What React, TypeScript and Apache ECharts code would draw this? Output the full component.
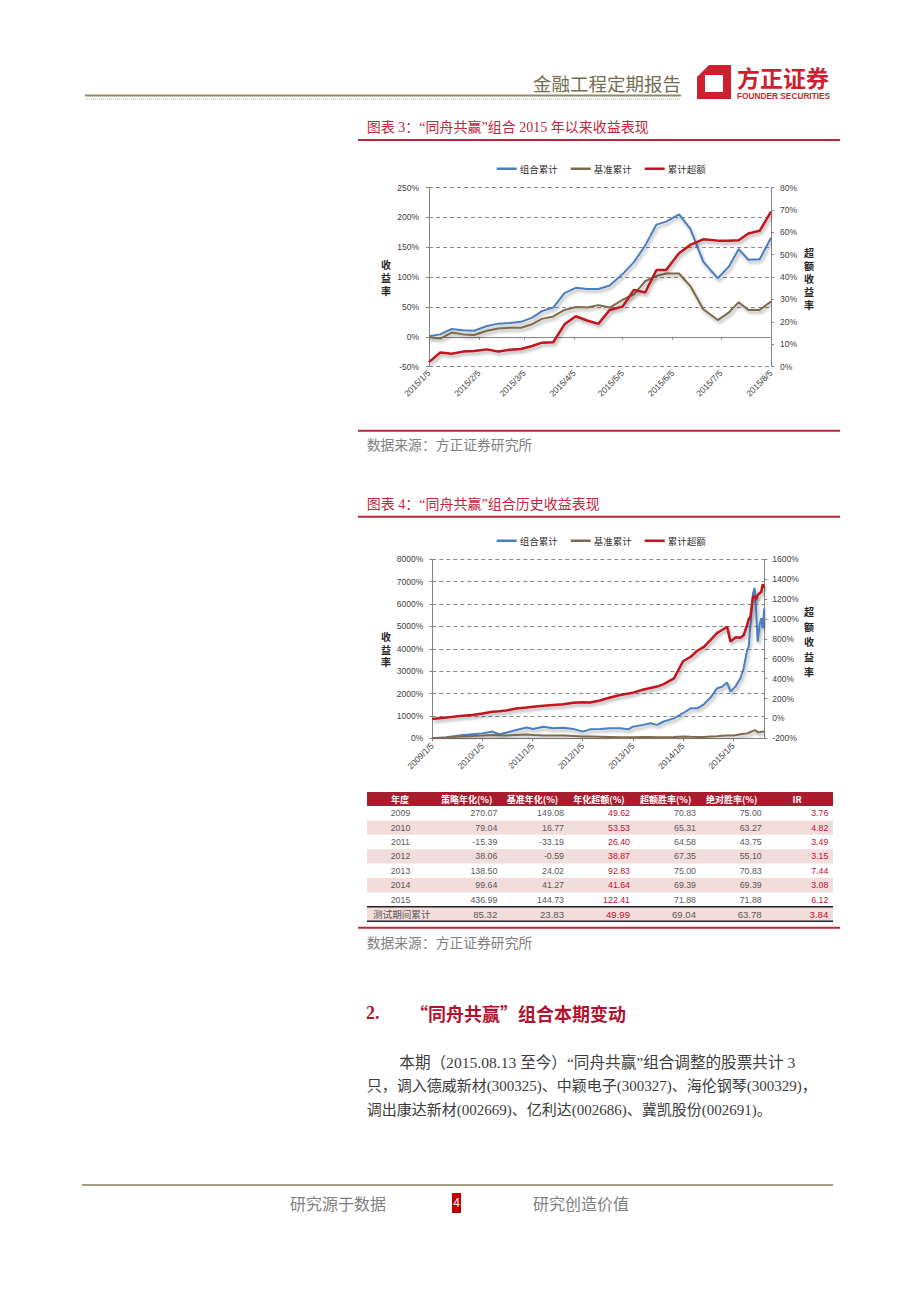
import React, { useEffect, useRef } from 'react';
import * as echarts from 'echarts';

// ---------- Chart 1: 2015 YTD (weekly) ----------
const c1Dates = ['2015-01-05','2015-01-12','2015-01-19','2015-01-26','2015-02-02','2015-02-10','2015-02-17','2015-02-24','2015-03-03','2015-03-10','2015-03-16','2015-03-23','2015-03-30','2015-04-06','2015-04-13','2015-04-20','2015-04-27','2015-05-05','2015-05-12','2015-05-19','2015-05-26','2015-06-01','2015-06-09','2015-06-16','2015-06-24','2015-07-03','2015-07-10','2015-07-16','2015-07-22','2015-07-29','2015-08-05'];
const c1Portfolio = [1,4,13,11,10,18,22,23,25,32,43,49,73,82,80,80,86,105,125,153,188,193,205,181,126,98,118,147,129,130,166];
const c1Benchmark = [-1,-3,7,4,3,10,14,15,15,21,30,34,45,50,49,53,49,62,71,93,102,106,106,85,46,28,41,58,45,45,59];
const c1Excess = [2,6.3,5.7,6.7,7,7.7,6.7,7.5,7.9,9.2,10.7,10.9,18.9,22.5,20.6,19.1,25.3,26.8,34.3,33.1,43.2,43.2,50.7,54.4,56.9,56.3,56.3,56.5,59.5,60.7,69.3];

// ---------- Chart 2: history ----------
const c2Dates = ['2009-01-05','2009-04-18','2009-07-22','2009-10-25','2010-01-05','2010-03-20','2010-05-08','2010-06-27','2010-09-09','2010-11-22','2011-01-10','2011-03-24','2011-06-05','2011-08-17','2011-10-29','2012-01-05','2012-02-28','2012-05-11','2012-07-23','2012-10-04','2012-12-04','2013-01-05','2013-03-24','2013-05-12','2013-06-30','2013-08-18','2013-10-31','2014-01-05','2014-03-02','2014-04-19','2014-06-06','2014-07-25','2014-09-11','2014-10-17','2014-11-22','2014-12-17','2015-01-22','2015-02-27','2015-03-23','2015-04-17','2015-04-29','2015-05-11','2015-05-30','2015-06-11','2015-06-23','2015-07-03','2015-07-17','2015-07-29','2015-08-08','2015-08-20'];
const c2Portfolio = [0,45,120,180,220,300,180,250,370,480,420,520,450,470,420,300,400,420,450,450,400,520,600,670,600,750,890,1120,1340,1340,1520,1820,2240,2300,2490,2090,2310,2680,3130,3950,4100,5070,6480,6710,5520,4320,5070,5370,4920,5810];
const c2Benchmark = [0,30,75,105,120,150,140,120,150,165,150,130,120,120,105,75,75,70,60,50,45,45,55,60,50,45,60,75,65,60,60,75,90,110,120,120,140,180,200,220,250,280,330,370,330,270,270,290,290,300];
const c2Excess = [-5,8,25,35,50,68,72,80,100,110,118,128,135,142,158,162,160,180,210,235,250,259,290,305,320,345,403,575,620,680,720,790,860,889,922,772,815,812,839,939,1000,1023,1224,1230,1200,1241,1260,1274,1348,1314];

const seriesNames = ['组合累计', '基准累计', '累计超额'];

// ---------- Table ----------
const tableHeader = ['年度', '策略年化(%)', '基准年化(%)', '年化超额(%)', '超额胜率(%)', '绝对胜率(%)', 'IR'];
const tableYears = ['2009', '2010', '2011', '2012', '2013', '2014', '2015', '测试期间累计'];
const strategyAnnual = [270.07, 79.04, -15.39, 38.06, 138.5, 99.64, 436.99, 85.32];
const benchmarkAnnual = [149.08, 16.77, -33.19, -0.59, 24.02, 41.27, 144.73, 23.83];
const excessAnnual = [49.62, 53.53, 26.4, 38.87, 92.83, 41.64, 122.41, 49.99];
const excessWinRate = [70.83, 65.31, 64.58, 67.35, 75.0, 69.39, 71.88, 69.04];
const absWinRate = [75.0, 63.27, 43.75, 55.1, 70.83, 69.39, 71.88, 63.78];
const irValues = [3.76, 4.82, 3.49, 3.15, 7.44, 3.08, 6.12, 3.84];

const BLUE = '#4a7ebf';
const BROWN = '#7e6a4b';
const RED = '#c0141f';
const TITLE_RED = '#c4253b';
const LINE_RED = '#b8283a';
const GRID_GRAY = '#8a8a8a';
const AXIS_GRAY = '#868686';

const FONT_CJK = "'Noto Sans CJK SC', sans-serif";
const FONT_SERIF = "'Liberation Serif', 'Noto Sans CJK SC', serif";
const FONT_SANS = "'Liberation Sans', Arial, sans-serif";

function dayList(start: string, end: string): string[] {
  const p = (s: string) => Date.UTC(+s.slice(0, 4), +s.slice(5, 7) - 1, +s.slice(8, 10));
  const out: string[] = [];
  for (let t = p(start); t <= p(end); t += 86400000) {
    const d = new Date(t);
    out.push(`${d.getUTCFullYear()}-${String(d.getUTCMonth() + 1).padStart(2, '0')}-${String(d.getUTCDate()).padStart(2, '0')}`);
  }
  return out;
}
function align(axis: string[], dates: string[], values: number[]) {
  const m = new Map<string, number>();
  dates.forEach((d, i) => m.set(d, values[i]));
  return axis.map((d) => (m.has(d) ? (m.get(d) as number) : null));
}
const fmtDate = (v: string) => `${+v.slice(0, 4)}/${+v.slice(5, 7)}/${+v.slice(8, 10)}`;
const fmtPct = (v: number) => `${v}%`;

function txt(x: number, y: number, text: string, o: any = {}) {
  const ta = o.textAlign || 'left';
  const va = o.verticalAlign || 'middle';
  return {
    type: 'text', x, y, silent: true, z: 10,
    style: {
      text, fill: '#000', fontSize: 12, fontFamily: FONT_CJK,
      ...o,
      textAlign: ta, align: ta, verticalAlign: va, textVerticalAlign: va,
    },
  };
}
function hline(x1: number, x2: number, y: number, stroke: string, lineWidth = 1, lineDash?: number[]) {
  return {
    type: 'line', silent: true, z: 10,
    shape: { x1, y1: y, x2, y2: y },
    style: { stroke, lineWidth, lineDash: lineDash || null },
  };
}

const lineShadow = { shadowColor: 'rgba(0,0,0,0.32)', shadowBlur: 3, shadowOffsetX: 1.5, shadowOffsetY: 2.5 };

export default function App() {
  const ref = useRef<HTMLDivElement>(null);
  useEffect(() => {
    if (!ref.current) return;
    const chart = echarts.init(ref.current, undefined, { renderer: 'svg' });

    const ax1 = dayList(c1Dates[0], c1Dates[c1Dates.length - 1]);
    const ax2 = dayList(c2Dates[0], c2Dates[c2Dates.length - 1]);
    const monthTick = (_i: number, v: string) => v.slice(8, 10) === '05';
    const yearTick = (_i: number, v: string) => v.slice(5, 10) === '01-05';

    const axisLabelY = { fontSize: 8.5, color: '#404040', fontFamily: FONT_SANS };
    const axisLineG = { show: true, lineStyle: { color: AXIS_GRAY, width: 1 } };
    const tickG = { show: true, length: 3, lineStyle: { color: AXIS_GRAY } };
    const dashed = { show: true, lineStyle: { color: GRID_GRAY, type: [4, 3], width: 1 } };

    const mk = (name: string, color: string, width: number, xi: number, yi: number, data: any[]) => ({
      name, type: 'line', xAxisIndex: xi, yAxisIndex: yi, data,
      connectNulls: true, showSymbol: false, symbol: 'none', smooth: false,
      lineStyle: { color, width, ...lineShadow }, itemStyle: { color },
      emphasis: { disabled: true },
    });

    // --------- graphics ----------
    const g: any[] = [];
    // header
    g.push(txt(533, 83, '金融工程定期报告', { fontSize: 18.5, fill: '#736e50' }));
    g.push(hline(85, 681, 95.5, '#8f8a66', 2));
    g.push(hline(85, 681, 99, '#b3ae90', 1, [1, 1]));
    g.push({ type: 'polygon', silent: true, shape: { points: [[709, 65], [731, 65], [731, 99], [697, 99], [697, 77]] }, style: { fill: '#cc1f2f' } });
    g.push({ type: 'rect', silent: true, shape: { x: 705, y: 75, width: 18, height: 17 }, style: { fill: '#fff' } });
    g.push(txt(737, 76.5, '方正证券', { fontSize: 23, fontWeight: 'bold', fill: '#cc1f2f', lineHeight: 22 }));
    g.push(txt(737, 96, 'FOUNDER SECURITIES', { fontSize: 8.3, fontWeight: 'bold', fill: '#cc1f2f', fontFamily: FONT_SANS, lineHeight: 8 }));

    // chart 1 frame texts
    g.push(txt(366.7, 127, '图表 3：“同舟共赢”组合 2015 年以来收益表现', { fontSize: 14, fill: TITLE_RED, fontFamily: FONT_SERIF }));
    g.push(hline(358, 840, 140, LINE_RED, 2));
    g.push(txt(386, 277.5, '收\n益\n率', { fontSize: 10, fontWeight: 'bold', lineHeight: 12.6, textAlign: 'center', fill: '#262626' }));
    g.push(txt(809, 278, '超\n额\n收\n益\n率', { fontSize: 10, fontWeight: 'bold', lineHeight: 13, textAlign: 'center', fill: '#262626' }));
    g.push(hline(358, 840, 430.7, LINE_RED, 2));
    g.push(txt(366.7, 444, '数据来源：方正证券研究所', { fontSize: 13.8, fill: '#7f7f7f' }));

    // chart 2 frame texts
    g.push(txt(366.7, 504, '图表 4：“同舟共赢”组合历史收益表现', { fontSize: 14, fill: TITLE_RED, fontFamily: FONT_SERIF }));
    g.push(hline(358, 840, 516.7, LINE_RED, 2));
    g.push(txt(386, 649, '收\n益\n率', { fontSize: 10, fontWeight: 'bold', lineHeight: 12.6, textAlign: 'center', fill: '#262626' }));
    g.push(txt(809, 641, '超\n额\n收\n益\n率', { fontSize: 10, fontWeight: 'bold', lineHeight: 15, textAlign: 'center', fill: '#262626' }));

    // table
    const tL = 367, tR = 833, tW = tR - tL;
    g.push({ type: 'rect', silent: true, shape: { x: tL, y: 792, width: tW, height: 14 }, style: { fill: '#a81d2e' } });
    const headerCenters = [400, 466.7, 532.5, 599, 665.7, 731.7, 797];
    tableHeader.forEach((h, i) => g.push(txt(headerCenters[i], 799, h, { fontSize: 9, fontWeight: 'bold', fill: '#fff', textAlign: 'center' })));
    const rowTop = (i: number) => 806 + i * 14.4;
    const numRight = [497.3, 564, 630, 696, 761.7, 828.3];
    const cols = [strategyAnnual, benchmarkAnnual, excessAnnual, excessWinRate, absWinRate, irValues];
    tableYears.forEach((yr, i) => {
      const last = i === tableYears.length - 1;
      if (i % 2 === 1) g.push({ type: 'rect', silent: true, shape: { x: tL, y: rowTop(i), width: tW, height: 14.4 }, style: { fill: '#f3dcdc' } });
      const cy = rowTop(i) + 7.2;
      const fs = last ? 9.6 : 8.8;
      if (last) g.push(txt(373, cy, yr, { fontSize: 9.6, fill: '#595959' }));
      else g.push(txt(400.5, cy, yr, { fontSize: fs, fill: '#595959', textAlign: 'center', fontFamily: FONT_SANS }));
      cols.forEach((col, c) => {
        const red = c === 2 || c === 5;
        g.push(txt(numRight[c], cy, col[i].toFixed(2), { fontSize: fs, fill: red ? '#c0102f' : '#595959', textAlign: 'right', fontFamily: FONT_SANS }));
      });
    });
    g.push(hline(tL, tR, rowTop(7), '#222', 1.5));
    g.push(hline(tL, tR, rowTop(8), '#222', 1.5));
    g.push(hline(358, 840, 927.7, LINE_RED, 2));
    g.push(txt(366.7, 941.5, '数据来源：方正证券研究所', { fontSize: 13.8, fill: '#7f7f7f' }));

    // section
    g.push(txt(366, 1013, '2.', { fontSize: 18, fontWeight: 'bold', fill: '#b0132d', fontFamily: FONT_SERIF }));
    g.push(txt(410, 1013, '“同舟共赢”组合本期变动', { fontSize: 18, fontWeight: 'bold', fill: '#b0132d', fontFamily: FONT_CJK }));
    const paraStyle = { fontSize: 15, fill: '#3c3c3c', fontFamily: FONT_SERIF };
    g.push(txt(399.3, 1062, '本期（2015.08.13 至今）“同舟共赢”组合调整的股票共计 3', { ...paraStyle, fontSize: 15.6 }));
    g.push(txt(366.7, 1086, '只，调入德威新材(300325)、中颖电子(300327)、海伦钢琴(300329)，', paraStyle));
    g.push(txt(366.7, 1109.5, '调出康达新材(002669)、亿利达(002686)、冀凯股份(002691)。', paraStyle));

    // footer
    g.push(hline(82, 833, 1185, '#a29e82', 2));
    g.push(txt(290, 1203, '研究源于数据', { fontSize: 16, fill: '#7f7f7f' }));
    g.push({ type: 'rect', silent: true, shape: { x: 452, y: 1193, width: 9, height: 20 }, style: { fill: '#c00000' } });
    g.push(txt(456.5, 1203, '4', { fontSize: 12, fill: '#fff', textAlign: 'center', fontFamily: FONT_SANS }));
    g.push(txt(533, 1203, '研究创造价值', { fontSize: 16, fill: '#7f7f7f' }));

    const legendCommon = {
      data: seriesNames, icon: 'rect', itemWidth: 20, itemHeight: 2.5, itemGap: 13,
      textStyle: { fontSize: 9.5, color: '#333', fontFamily: FONT_CJK, padding: [0, 0, 0, -2] },
      selectedMode: false,
    };

    const option: any = {
      animation: false,
      backgroundColor: '#fff',
      legend: [
        { ...legendCommon, left: 491.7, top: 159 },
        { ...legendCommon, left: 491.7, top: 531 },
      ],
      grid: [
        { left: 429, top: 187.6, width: 342, height: 179, containLabel: false },
        { left: 432.3, top: 559.3, width: 332, height: 179, containLabel: false },
      ],
      xAxis: [
        {
          type: 'category', gridIndex: 0, data: ax1, boundaryGap: false, position: 'bottom',
          axisLine: { show: false, onZero: false }, axisTick: { show: false },
          axisLabel: { interval: monthTick, rotate: 45, margin: 5, formatter: fmtDate, ...axisLabelY },
          splitLine: { show: false },
        },
        {
          type: 'category', gridIndex: 0, data: ax1, boundaryGap: false, position: 'bottom',
          axisLine: { show: true, onZero: true, onZeroAxisIndex: 0, lineStyle: { color: AXIS_GRAY } },
          axisTick: { show: true, interval: monthTick, length: 3, lineStyle: { color: AXIS_GRAY } },
          axisLabel: { show: false }, splitLine: { show: false },
        },
        {
          type: 'category', gridIndex: 1, data: ax2, boundaryGap: false, position: 'bottom',
          axisLine: { show: true, onZero: false, lineStyle: { color: AXIS_GRAY } },
          axisTick: { show: true, interval: yearTick, length: 3, lineStyle: { color: AXIS_GRAY } },
          axisLabel: { interval: yearTick, rotate: 45, margin: 6, formatter: fmtDate, ...axisLabelY },
          splitLine: { show: false },
        },
      ],
      yAxis: [
        {
          type: 'value', gridIndex: 0, position: 'left', min: -50, max: 250, interval: 50,
          axisLine: axisLineG, axisTick: tickG, splitLine: dashed,
          axisLabel: { formatter: fmtPct, margin: 10, ...axisLabelY },
        },
        {
          type: 'value', gridIndex: 0, position: 'right', min: 0, max: 80, interval: 10,
          axisLine: axisLineG, axisTick: tickG, splitLine: { show: false },
          axisLabel: { formatter: fmtPct, margin: 9, ...axisLabelY },
        },
        {
          type: 'value', gridIndex: 1, position: 'left', min: 0, max: 8000, interval: 1000,
          axisLine: axisLineG, axisTick: tickG, splitLine: dashed,
          axisLabel: { formatter: fmtPct, margin: 9, ...axisLabelY },
        },
        {
          type: 'value', gridIndex: 1, position: 'right', min: -200, max: 1600, interval: 200,
          axisLine: axisLineG, axisTick: tickG, splitLine: { show: false },
          axisLabel: { formatter: fmtPct, margin: 8, ...axisLabelY },
        },
      ],
      series: [
        mk(seriesNames[0], BLUE, 2, 0, 0, align(ax1, c1Dates, c1Portfolio)),
        mk(seriesNames[1], BROWN, 2, 0, 0, align(ax1, c1Dates, c1Benchmark)),
        mk(seriesNames[2], RED, 2.5, 0, 1, align(ax1, c1Dates, c1Excess)),
        mk(seriesNames[0], BLUE, 2, 2, 2, align(ax2, c2Dates, c2Portfolio)),
        mk(seriesNames[1], BROWN, 2, 2, 2, align(ax2, c2Dates, c2Benchmark)),
        mk(seriesNames[2], RED, 2.5, 2, 3, align(ax2, c2Dates, c2Excess)),
      ],
      graphic: { elements: g },
    };
    chart.setOption(option);
    return () => chart.dispose();
  }, []);

  return (
    <div
      ref={ref}
      style={{ position: 'absolute', left: 0, top: 0, width: 920, height: 1302, background: '#fff' }}
    />
  );
}
